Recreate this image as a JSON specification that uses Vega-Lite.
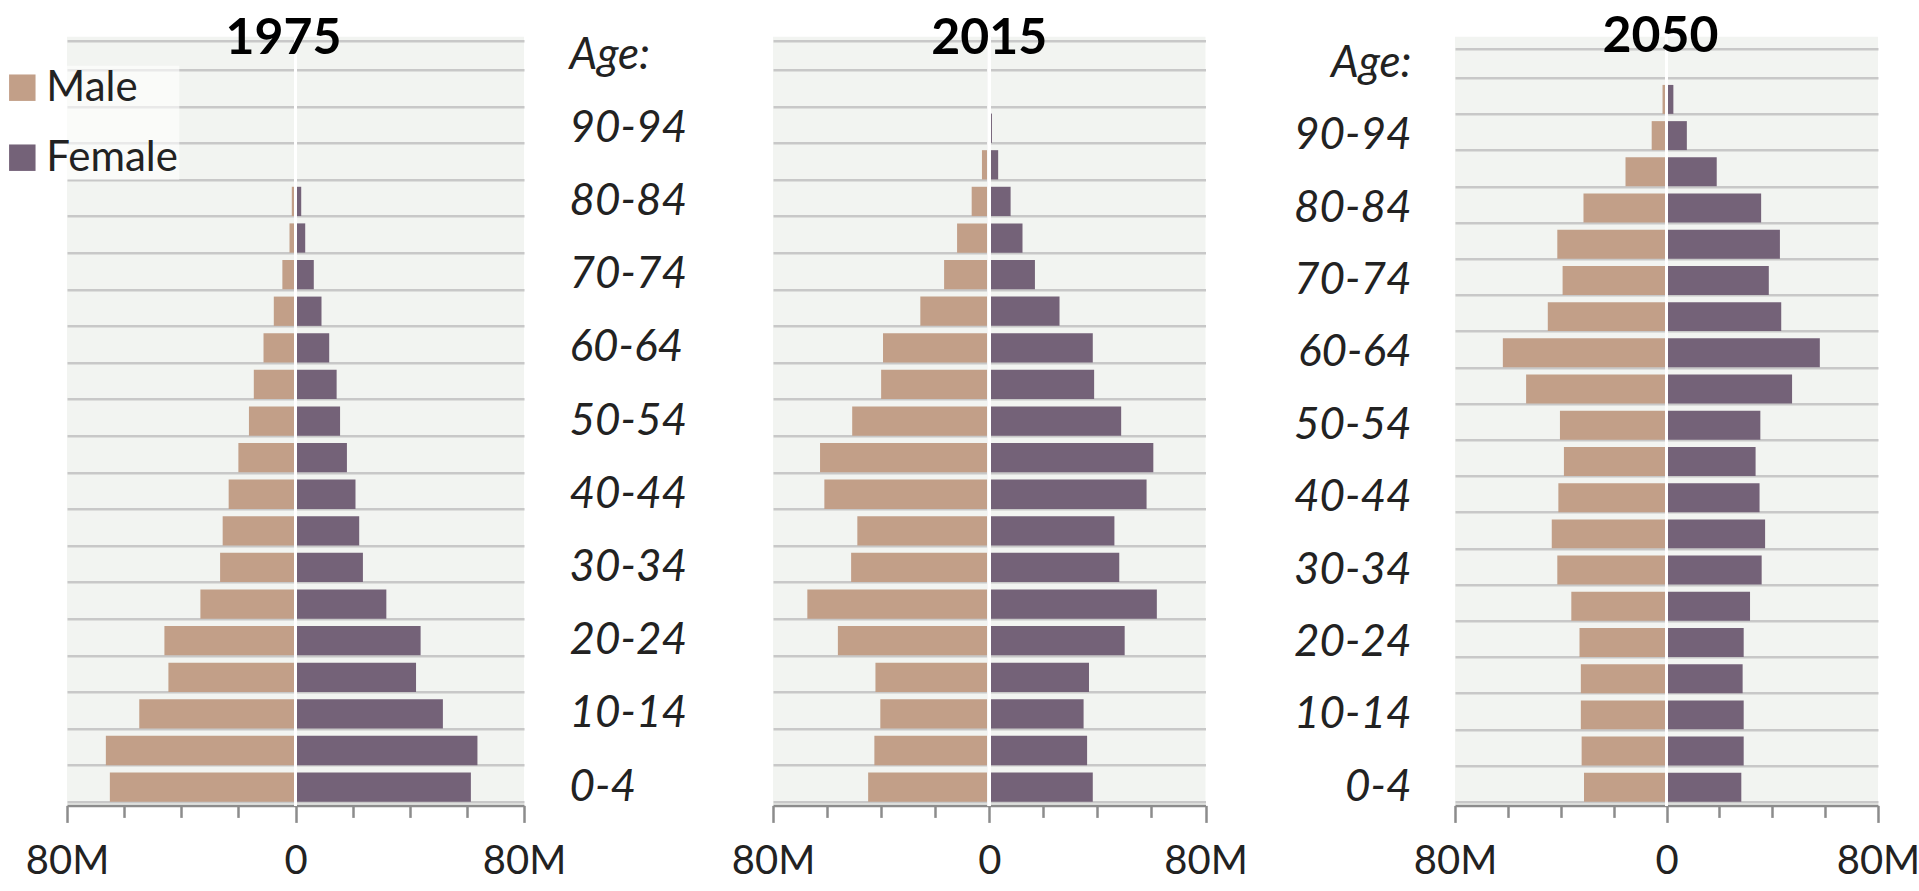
{
  "$schema": "https://vega.github.io/schema/vega-lite/v6.json",
  "padding": {"left": 0, "top": 11.7, "right": 0, "bottom": 10},
  "background": "white",
  "bounds": "flush",
  "spacing": 249,
  "config": {
    "view": {"stroke": null, "fill": "#f2f4f1"},
    "font": "Lato",
    "axis": {"labelFont": "Lato", "labelColor": "#222222"}
  },
  "datasets": {
    "pop": [
      {"year": 1975, "age": "80-84", "sex": "Male", "pop": -1.3}, {"year": 1975, "age": "80-84", "sex": "Female", "pop": 2.0},
      {"year": 1975, "age": "75-79", "sex": "Male", "pop": -2.1}, {"year": 1975, "age": "75-79", "sex": "Female", "pop": 3.4},
      {"year": 1975, "age": "70-74", "sex": "Male", "pop": -4.6}, {"year": 1975, "age": "70-74", "sex": "Female", "pop": 6.4},
      {"year": 1975, "age": "65-69", "sex": "Male", "pop": -7.6}, {"year": 1975, "age": "65-69", "sex": "Female", "pop": 9.1},
      {"year": 1975, "age": "60-64", "sex": "Male", "pop": -11.2}, {"year": 1975, "age": "60-64", "sex": "Female", "pop": 11.8},
      {"year": 1975, "age": "55-59", "sex": "Male", "pop": -14.6}, {"year": 1975, "age": "55-59", "sex": "Female", "pop": 14.4},
      {"year": 1975, "age": "50-54", "sex": "Male", "pop": -16.3}, {"year": 1975, "age": "50-54", "sex": "Female", "pop": 15.6},
      {"year": 1975, "age": "45-49", "sex": "Male", "pop": -20.0}, {"year": 1975, "age": "45-49", "sex": "Female", "pop": 18.0},
      {"year": 1975, "age": "40-44", "sex": "Male", "pop": -23.4}, {"year": 1975, "age": "40-44", "sex": "Female", "pop": 21.0},
      {"year": 1975, "age": "35-39", "sex": "Male", "pop": -25.5}, {"year": 1975, "age": "35-39", "sex": "Female", "pop": 22.3},
      {"year": 1975, "age": "30-34", "sex": "Male", "pop": -26.4}, {"year": 1975, "age": "30-34", "sex": "Female", "pop": 23.6},
      {"year": 1975, "age": "25-29", "sex": "Male", "pop": -33.3}, {"year": 1975, "age": "25-29", "sex": "Female", "pop": 31.8},
      {"year": 1975, "age": "20-24", "sex": "Male", "pop": -45.9}, {"year": 1975, "age": "20-24", "sex": "Female", "pop": 43.8},
      {"year": 1975, "age": "15-19", "sex": "Male", "pop": -44.5}, {"year": 1975, "age": "15-19", "sex": "Female", "pop": 42.2},
      {"year": 1975, "age": "10-14", "sex": "Male", "pop": -54.7}, {"year": 1975, "age": "10-14", "sex": "Female", "pop": 51.6},
      {"year": 1975, "age": "5-9", "sex": "Male", "pop": -66.4}, {"year": 1975, "age": "5-9", "sex": "Female", "pop": 63.7},
      {"year": 1975, "age": "0-4", "sex": "Male", "pop": -65.0}, {"year": 1975, "age": "0-4", "sex": "Female", "pop": 61.4},

      {"year": 2015, "age": "100+", "sex": "Male", "pop": -0.02}, {"year": 2015, "age": "100+", "sex": "Female", "pop": 0.05},
      {"year": 2015, "age": "95-99", "sex": "Male", "pop": -0.1}, {"year": 2015, "age": "95-99", "sex": "Female", "pop": 0.3},
      {"year": 2015, "age": "90-94", "sex": "Male", "pop": -0.8}, {"year": 2015, "age": "90-94", "sex": "Female", "pop": 1.0},
      {"year": 2015, "age": "85-89", "sex": "Male", "pop": -2.7}, {"year": 2015, "age": "85-89", "sex": "Female", "pop": 3.3},
      {"year": 2015, "age": "80-84", "sex": "Male", "pop": -6.5}, {"year": 2015, "age": "80-84", "sex": "Female", "pop": 7.9},
      {"year": 2015, "age": "75-79", "sex": "Male", "pop": -11.9}, {"year": 2015, "age": "75-79", "sex": "Female", "pop": 12.3},
      {"year": 2015, "age": "70-74", "sex": "Male", "pop": -16.7}, {"year": 2015, "age": "70-74", "sex": "Female", "pop": 16.9},
      {"year": 2015, "age": "65-69", "sex": "Male", "pop": -25.5}, {"year": 2015, "age": "65-69", "sex": "Female", "pop": 26.0},
      {"year": 2015, "age": "60-64", "sex": "Male", "pop": -39.3}, {"year": 2015, "age": "60-64", "sex": "Female", "pop": 38.3},
      {"year": 2015, "age": "55-59", "sex": "Male", "pop": -40.0}, {"year": 2015, "age": "55-59", "sex": "Female", "pop": 38.8},
      {"year": 2015, "age": "50-54", "sex": "Male", "pop": -50.7}, {"year": 2015, "age": "50-54", "sex": "Female", "pop": 48.8},
      {"year": 2015, "age": "45-49", "sex": "Male", "pop": -62.6}, {"year": 2015, "age": "45-49", "sex": "Female", "pop": 60.7},
      {"year": 2015, "age": "40-44", "sex": "Male", "pop": -61.0}, {"year": 2015, "age": "40-44", "sex": "Female", "pop": 58.2},
      {"year": 2015, "age": "35-39", "sex": "Male", "pop": -48.8}, {"year": 2015, "age": "35-39", "sex": "Female", "pop": 46.3},
      {"year": 2015, "age": "30-34", "sex": "Male", "pop": -51.1}, {"year": 2015, "age": "30-34", "sex": "Female", "pop": 48.1},
      {"year": 2015, "age": "25-29", "sex": "Male", "pop": -67.3}, {"year": 2015, "age": "25-29", "sex": "Female", "pop": 62.0},
      {"year": 2015, "age": "20-24", "sex": "Male", "pop": -56.0}, {"year": 2015, "age": "20-24", "sex": "Female", "pop": 50.1},
      {"year": 2015, "age": "15-19", "sex": "Male", "pop": -42.1}, {"year": 2015, "age": "15-19", "sex": "Female", "pop": 36.9},
      {"year": 2015, "age": "10-14", "sex": "Male", "pop": -40.3}, {"year": 2015, "age": "10-14", "sex": "Female", "pop": 34.9},
      {"year": 2015, "age": "5-9", "sex": "Male", "pop": -42.5}, {"year": 2015, "age": "5-9", "sex": "Female", "pop": 36.2},
      {"year": 2015, "age": "0-4", "sex": "Male", "pop": -44.8}, {"year": 2015, "age": "0-4", "sex": "Female", "pop": 38.3},

      {"year": 2050, "age": "100+", "sex": "Male", "pop": -0.2}, {"year": 2050, "age": "100+", "sex": "Female", "pop": 0.5},
      {"year": 2050, "age": "95-99", "sex": "Male", "pop": -1.5}, {"year": 2050, "age": "95-99", "sex": "Female", "pop": 2.6},
      {"year": 2050, "age": "90-94", "sex": "Male", "pop": -5.6}, {"year": 2050, "age": "90-94", "sex": "Female", "pop": 7.7},
      {"year": 2050, "age": "85-89", "sex": "Male", "pop": -15.5}, {"year": 2050, "age": "85-89", "sex": "Female", "pop": 19.0},
      {"year": 2050, "age": "80-84", "sex": "Male", "pop": -31.4}, {"year": 2050, "age": "80-84", "sex": "Female", "pop": 35.8},
      {"year": 2050, "age": "75-79", "sex": "Male", "pop": -41.3}, {"year": 2050, "age": "75-79", "sex": "Female", "pop": 42.9},
      {"year": 2050, "age": "70-74", "sex": "Male", "pop": -39.3}, {"year": 2050, "age": "70-74", "sex": "Female", "pop": 38.7},
      {"year": 2050, "age": "65-69", "sex": "Male", "pop": -44.9}, {"year": 2050, "age": "65-69", "sex": "Female", "pop": 43.4},
      {"year": 2050, "age": "60-64", "sex": "Male", "pop": -61.9}, {"year": 2050, "age": "60-64", "sex": "Female", "pop": 58.0},
      {"year": 2050, "age": "55-59", "sex": "Male", "pop": -53.1}, {"year": 2050, "age": "55-59", "sex": "Female", "pop": 47.5},
      {"year": 2050, "age": "50-54", "sex": "Male", "pop": -40.3}, {"year": 2050, "age": "50-54", "sex": "Female", "pop": 35.5},
      {"year": 2050, "age": "45-49", "sex": "Male", "pop": -38.8}, {"year": 2050, "age": "45-49", "sex": "Female", "pop": 33.7},
      {"year": 2050, "age": "40-44", "sex": "Male", "pop": -40.9}, {"year": 2050, "age": "40-44", "sex": "Female", "pop": 35.2},
      {"year": 2050, "age": "35-39", "sex": "Male", "pop": -43.4}, {"year": 2050, "age": "35-39", "sex": "Female", "pop": 37.3},
      {"year": 2050, "age": "30-34", "sex": "Male", "pop": -41.3}, {"year": 2050, "age": "30-34", "sex": "Female", "pop": 36.0},
      {"year": 2050, "age": "25-29", "sex": "Male", "pop": -36.0}, {"year": 2050, "age": "25-29", "sex": "Female", "pop": 31.6},
      {"year": 2050, "age": "20-24", "sex": "Male", "pop": -32.9}, {"year": 2050, "age": "20-24", "sex": "Female", "pop": 29.2},
      {"year": 2050, "age": "15-19", "sex": "Male", "pop": -32.4}, {"year": 2050, "age": "15-19", "sex": "Female", "pop": 28.8},
      {"year": 2050, "age": "10-14", "sex": "Male", "pop": -32.4}, {"year": 2050, "age": "10-14", "sex": "Female", "pop": 29.2},
      {"year": 2050, "age": "5-9", "sex": "Male", "pop": -32.1}, {"year": 2050, "age": "5-9", "sex": "Female", "pop": 29.2},
      {"year": 2050, "age": "0-4", "sex": "Male", "pop": -31.2}, {"year": 2050, "age": "0-4", "sex": "Female", "pop": 28.3}
    ]
  },
  "resolve": {"scale": {"x": "independent", "y": "independent"}, "legend": {"color": "independent"}},
  "hconcat": [
    {
      "width": 457, "height": 768.7,
      "data": {"name": "pop"},
      "transform": [{"filter": "datum.year == 1975"}],
      "layer": [
        {
          "mark": {"type": "bar"},
          "encoding": {
            "y": {"field": "age", "type": "nominal",
              "scale": {"domain": ["100+","95-99","90-94","85-89","80-84","75-79","70-74","65-69","60-64","55-59","50-54","45-49","40-44","35-39","30-34","25-29","20-24","15-19","10-14","5-9","0-4"], "paddingInner": 0.2, "paddingOuter": 0.1},
              "axis": {"labels": false, "ticks": false, "domain": false, "grid": true, "tickBand": "extent", "gridColor": "#c8c8c8", "gridWidth": 2.5, "title": null}},
            "x": {"field": "pop", "type": "quantitative", "stack": null,
              "scale": {"domain": [-80, 80], "nice": false},
              "axis": {"values": [-80,-70,-60,-50,-40,-30,-20,-10,0,10,20,30,40,50,60,70,80], "labelExpr": "datum.value == 0 ? '0' : (abs(datum.value) == 80 ? '80M' : '')", "grid": false, "domainColor": "#8c8c8c", "domainWidth": 2.5, "tickColor": "#8c8c8c", "tickWidth": 2.5, "tickSize": {"condition": {"test": "abs(datum.value) == 80 || datum.value == 0", "value": 17}, "value": 12}, "labelFontSize": 40, "labelBaseline": "alphabetic", "labelPadding": 51, "labelFlush": false, "labelOverlap": false, "labelBound": false, "title": null}},
            "color": {"field": "sex", "type": "nominal",
              "scale": {"domain": ["Male", "Female"], "range": ["#c29f88", "#746278"]},
              "legend": {"orient": "none", "legendX": -66.7, "legendY": 29, "title": null, "symbolType": "square", "symbolSize": 700, "symbolStrokeWidth": 0, "symbolOpacity": 1, "labelFontSize": 42, "labelFont": "Lato", "labelColor": "#222222", "labelOffset": 3, "rowPadding": 28, "padding": 1, "fillColor": "rgba(255,255,255,0.6)", "direction": "vertical", "labelLimit": 300}}
          }
        },
        {"mark": {"type": "rule", "color": "white", "strokeWidth": 2.7}, "encoding": {"x": {"datum": 0}}},
        {
          "transform": [{"filter": "datum.age == '0-4' && datum.sex == 'Male'"}],
          "mark": {"type": "text", "font": "Lato", "fontSize": 50, "fontWeight": "bold", "color": "#000000", "baseline": "alphabetic", "align": "center", "dy": -0.9, "dx": -12},
          "encoding": {"x": {"datum": 0}, "y": {"datum": "100+"}, "text": {"field": "year", "type": "nominal"}}
        }
      ]
    },
    {
      "width": 432.5, "height": 768.7,
      "data": {"name": "pop"},
      "transform": [{"filter": "datum.year == 2015"}],
      "layer": [
        {
          "mark": {"type": "bar"},
          "encoding": {
            "y": {"field": "age", "type": "nominal",
              "scale": {"domain": ["100+","95-99","90-94","85-89","80-84","75-79","70-74","65-69","60-64","55-59","50-54","45-49","40-44","35-39","30-34","25-29","20-24","15-19","10-14","5-9","0-4"], "paddingInner": 0.2, "paddingOuter": 0.1},
              "axis": {"labelExpr": "datum.value == '100+' ? 'Age:' : (indexof(['0-4','10-14','20-24','30-34','40-44','50-54','60-64','70-74','80-84','90-94'], datum.value) >= 0 ? datum.value : '')", "labelAlign": "left", "labelBaseline": "middle", "labelPadding": 204, "labelFontSize": 44, "labelFontStyle": "italic", "labelOverlap": false, "labelBound": false, "labelLimit": 300, "ticks": false, "tickSize": 0, "domain": false, "grid": true, "tickBand": "extent", "gridColor": "#c8c8c8", "gridWidth": 2.5, "title": null}},
            "x": {"field": "pop", "type": "quantitative", "stack": null,
              "scale": {"domain": [-80, 80], "nice": false},
              "axis": {"values": [-80,-70,-60,-50,-40,-30,-20,-10,0,10,20,30,40,50,60,70,80], "labelExpr": "datum.value == 0 ? '0' : (abs(datum.value) == 80 ? '80M' : '')", "grid": false, "domainColor": "#8c8c8c", "domainWidth": 2.5, "tickColor": "#8c8c8c", "tickWidth": 2.5, "tickSize": {"condition": {"test": "abs(datum.value) == 80 || datum.value == 0", "value": 17}, "value": 12}, "labelFontSize": 40, "labelBaseline": "alphabetic", "labelPadding": 51, "labelFlush": false, "labelOverlap": false, "labelBound": false, "title": null}},
            "color": {"field": "sex", "type": "nominal",
              "scale": {"domain": ["Male", "Female"], "range": ["#c29f88", "#746278"]}, "legend": null}
          }
        },
        {"mark": {"type": "rule", "color": "white", "strokeWidth": 2.7}, "encoding": {"x": {"datum": 0}}},
        {
          "transform": [{"filter": "datum.age == '0-4' && datum.sex == 'Male'"}],
          "mark": {"type": "text", "font": "Lato", "fontSize": 50, "fontWeight": "bold", "color": "#000000", "baseline": "alphabetic", "align": "center", "dy": -0.9},
          "encoding": {"x": {"datum": 0}, "y": {"datum": "100+"}, "text": {"field": "year", "type": "nominal"}}
        }
      ]
    },
    {
      "width": 423, "height": 768.7,
      "data": {"name": "pop"},
      "transform": [{"filter": "datum.year == 2050"}],
      "layer": [
        {
          "mark": {"type": "bar"},
          "encoding": {
            "y": {"field": "age", "type": "nominal",
              "scale": {"domain": ["100+","95-99","90-94","85-89","80-84","75-79","70-74","65-69","60-64","55-59","50-54","45-49","40-44","35-39","30-34","25-29","20-24","15-19","10-14","5-9","0-4"], "paddingInner": 0.2, "paddingOuter": 0.216, "align": 0.7686},
              "axis": {"labelExpr": "datum.value == '100+' ? 'Age:' : (indexof(['0-4','10-14','20-24','30-34','40-44','50-54','60-64','70-74','80-84','90-94'], datum.value) >= 0 ? datum.value : '')", "labelAlign": "right", "labelBaseline": "middle", "labelPadding": 44, "labelFontSize": 44, "labelFontStyle": "italic", "labelOverlap": false, "labelBound": false, "labelLimit": 300, "ticks": false, "tickSize": 0, "domain": false, "grid": true, "tickBand": "extent", "gridColor": "#c8c8c8", "gridWidth": 2.5, "title": null}},
            "x": {"field": "pop", "type": "quantitative", "stack": null,
              "scale": {"domain": [-80, 80], "nice": false},
              "axis": {"values": [-80,-70,-60,-50,-40,-30,-20,-10,0,10,20,30,40,50,60,70,80], "labelExpr": "datum.value == 0 ? '0' : (abs(datum.value) == 80 ? '80M' : '')", "grid": false, "domainColor": "#8c8c8c", "domainWidth": 2.5, "tickColor": "#8c8c8c", "tickWidth": 2.5, "tickSize": {"condition": {"test": "abs(datum.value) == 80 || datum.value == 0", "value": 17}, "value": 12}, "labelFontSize": 40, "labelBaseline": "alphabetic", "labelPadding": 51, "labelFlush": false, "labelOverlap": false, "labelBound": false, "title": null}},
            "color": {"field": "sex", "type": "nominal",
              "scale": {"domain": ["Male", "Female"], "range": ["#c29f88", "#746278"]}, "legend": null}
          }
        },
        {"mark": {"type": "rule", "color": "white", "strokeWidth": 2.7}, "encoding": {"x": {"datum": 0}}},
        {
          "transform": [{"filter": "datum.age == '0-4' && datum.sex == 'Male'"}],
          "mark": {"type": "text", "font": "Lato", "fontSize": 50, "fontWeight": "bold", "color": "#000000", "baseline": "alphabetic", "align": "center", "dy": -10.8, "dx": -6},
          "encoding": {"x": {"datum": 0}, "y": {"datum": "100+"}, "text": {"field": "year", "type": "nominal"}}
        }
      ]
    }
  ]
}
